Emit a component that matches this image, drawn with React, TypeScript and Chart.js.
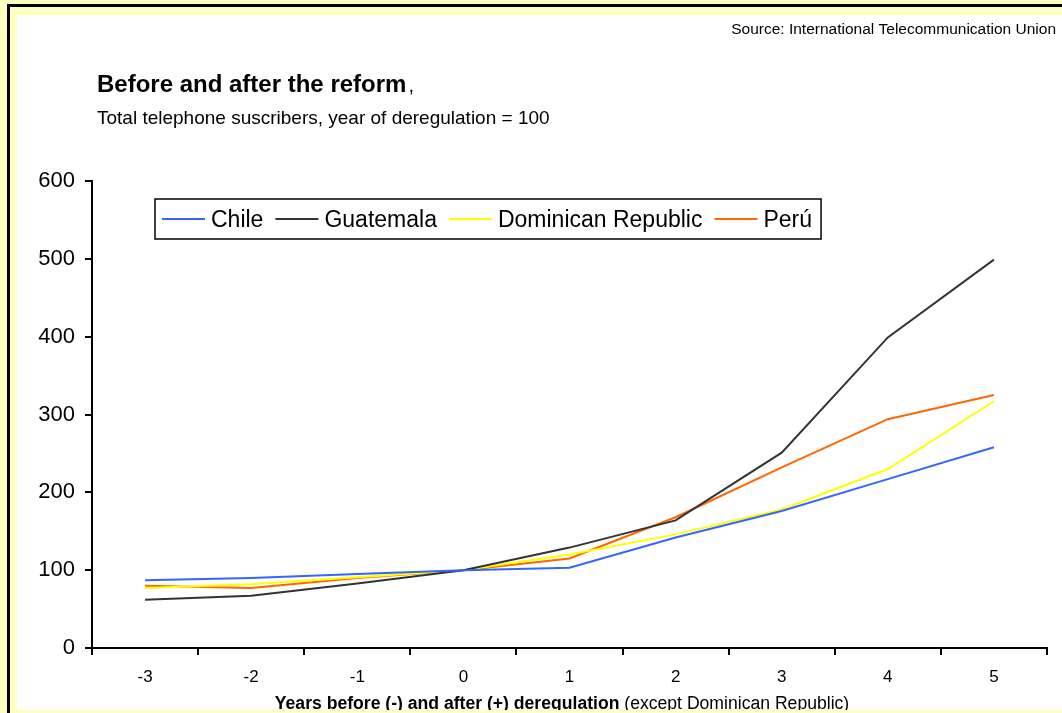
import React, { useEffect, useRef } from "react";
import { Chart, registerables } from "chart.js";

Chart.register(...registerables);

const categories = ["-3", "-2", "-1", "0", "1", "2", "3", "4", "5"];
const chile = [87, 90, 95, 100, 103, 142, 176, 217, 258];
const guatemala = [62, 67, 83, 100, 129, 164, 251, 399, 499];
const dominicanRepublic = [77, 82, 91, 100, 120, 146, 178, 230, 317];
const peru = [80, 77, 90, 100, 115, 168, 232, 294, 325];
const seriesNames = ["Chile", "Guatemala", "Dominican Republic", "Perú"];
const seriesColors = ["#3366FF", "#333333", "#FFFF00", "#FF6600"];
const yMin = 0;
const yMax = 600;
const yStep = 100;

const FONT = "Arial, 'Liberation Sans', Helvetica, sans-serif";

const decorPlugin = {
  id: "decor",
  afterDraw(chart: any) {
    const ctx: CanvasRenderingContext2D = chart.ctx;
    ctx.save();
    ctx.fillStyle = "#000";
    ctx.textBaseline = "alphabetic";

    // Source
    ctx.font = `15.5px ${FONT}`;
    ctx.textAlign = "right";
    ctx.fillText("Source: International Telecommunication Union", 1039, 19);

    // Title
    ctx.textAlign = "left";
    ctx.font = `bold 24px ${FONT}`;
    const title = "Before and after the reform";
    ctx.fillText(title, 80, 77);
    const tw = ctx.measureText(title).width;
    ctx.font = `20px ${FONT}`;
    ctx.fillText(",", 80 + tw + 2, 77);

    // Subtitle
    ctx.font = `19px ${FONT}`;
    ctx.fillText("Total telephone suscribers, year of deregulation = 100", 80, 109);

    // X axis title (mixed bold / normal)
    const boldPart = "Years before (-) and after (+) deregulation";
    const normPart = " (except Dominican Republic)";
    const xtSize = 17.6;
    ctx.font = `bold ${xtSize}px ${FONT}`;
    const bw = ctx.measureText(boldPart).width;
    ctx.font = `${xtSize}px ${FONT}`;
    const nw = ctx.measureText(normPart).width;
    const startX = 545 - (bw + nw) / 2;
    ctx.font = `bold ${xtSize}px ${FONT}`;
    ctx.fillText(boldPart, startX, 694);
    ctx.font = `${xtSize}px ${FONT}`;
    ctx.fillText(normPart, startX + bw, 694);

    // Legend box
    const boxLeft = 138;
    const boxTop = 184;
    const boxH = 40;
    ctx.font = `23px ${FONT}`;
    let x = boxLeft + 7;
    const items: { sx: number; tx: number; label: string; color: string }[] = [];
    chart.data.datasets.forEach((ds: any) => {
      const sx = x;
      const tx = sx + 49;
      items.push({ sx, tx, label: ds.label, color: ds.borderColor });
      x = tx + ctx.measureText(ds.label).width + 12;
    });
    const boxRight = x - 12 + 9;
    ctx.fillStyle = "#fff";
    ctx.fillRect(boxLeft, boxTop, boxRight - boxLeft, boxH);
    ctx.strokeStyle = "#000";
    ctx.lineWidth = 1.5;
    ctx.strokeRect(boxLeft, boxTop, boxRight - boxLeft, boxH);
    const cy = boxTop + boxH / 2;
    items.forEach((it) => {
      ctx.strokeStyle = it.color;
      ctx.lineWidth = 2;
      ctx.beginPath();
      ctx.moveTo(it.sx, cy);
      ctx.lineTo(it.sx + 43, cy);
      ctx.stroke();
      ctx.fillStyle = "#000";
      ctx.fillText(it.label, it.tx, cy + 8);
    });
    ctx.restore();
  },
};

export default function App() {
  const ref = useRef<HTMLCanvasElement>(null);

  useEffect(() => {
    document.body.style.margin = "0";
    const canvas = ref.current;
    if (!canvas) return;
    const seriesData = [chile, guatemala, dominicanRepublic, peru];
    const chart = new Chart(canvas, {
      type: "line",
      data: {
        labels: categories,
        datasets: seriesNames.map((name, i) => ({
          label: name,
          data: seriesData[i],
          borderColor: seriesColors[i],
          backgroundColor: seriesColors[i],
          borderWidth: 2,
          pointRadius: 0,
          tension: 0,
          fill: false,
        })),
      },
      options: {
        responsive: false,
        maintainAspectRatio: false,
        animation: false,
        layout: { padding: { top: 166, right: 15, left: 0, bottom: 0 } },
        plugins: {
          legend: { display: false },
          title: { display: false },
          tooltip: { enabled: false },
        },
        scales: {
          x: {
            type: "category",
            offset: true,
            grid: {
              offset: true,
              drawOnChartArea: false,
              drawTicks: true,
              tickLength: 7,
              color: "#000",
              lineWidth: 2,
            },
            border: { display: true, color: "#000", width: 2 },
            ticks: {
              color: "#000",
              font: { family: FONT, size: 17 },
              padding: 12,
              maxRotation: 0,
              autoSkip: false,
            },
            afterFit(scale: any) {
              scale.height = 62;
            },
          },
          y: {
            min: yMin,
            max: yMax,
            grid: {
              drawOnChartArea: false,
              drawTicks: true,
              tickLength: 7,
              color: "#000",
              lineWidth: 2,
            },
            border: { display: true, color: "#000", width: 2 },
            ticks: {
              stepSize: yStep,
              color: "#000",
              font: { family: FONT, size: 22 },
              padding: 10,
            },
            afterFit(scale: any) {
              scale.width = 75;
            },
          },
        },
      },
      plugins: [decorPlugin],
    });
    return () => chart.destroy();
  }, []);

  return (
    <div
      style={{
        position: "relative",
        width: 1062,
        height: 713,
        background: "#FFFFC0",
        overflow: "hidden",
      }}
    >
      <div
        style={{
          position: "absolute",
          left: 7,
          top: 4,
          width: 2000,
          height: 2000,
          borderLeft: "3px solid #000",
          borderTop: "3px solid #000",
        }}
      />
      <div
        style={{
          position: "absolute",
          left: 17,
          top: 15,
          width: 1045,
          height: 695,
          background: "#fff",
        }}
      >
        <canvas ref={ref} width={1045} height={695} style={{ display: "block" }} />
      </div>
    </div>
  );
}
